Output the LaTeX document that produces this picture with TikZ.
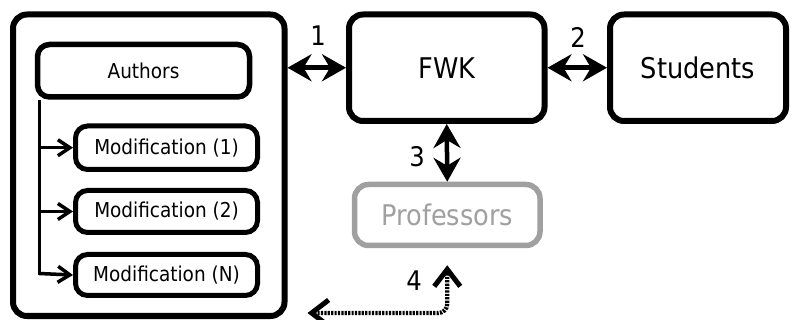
\documentclass[tikz,border=0pt]{standalone}
\usepackage{fontspec}
\setmainfont{DejaVu Sans}[FakeStretch=0.9]
\usetikzlibrary{arrows.meta}
\definecolor{profgray}{HTML}{A0A0A0}
\tikzset{
  box/.style={draw=black, rounded corners=14pt, fill=white, inner sep=0pt, line width=6pt},
  smallbox/.style={draw=black, rounded corners=12pt, fill=white, inner sep=0pt, line width=5pt, font=\fontsize{20.5}{22}\selectfont},
  bigtext/.style={font=\fontsize{28.5}{30}\selectfont},
  dbl/.style={line width=4.5pt, {Stealth[length=24pt,width=27pt,inset=8pt]}-{Stealth[length=24pt,width=27pt,inset=8pt]}},
  modarrow/.style={line width=3.5pt, -{Straight Barb[length=12pt,width=16pt,line width=3.5pt]}},
  trunk/.style={line width=3.5pt},
  dotarrow/.style={line width=4.2pt, dash pattern=on 2.2pt off 1.2pt, {Straight Barb[length=17pt,width=26pt,line width=5pt]}-{Straight Barb[length=17pt,width=26pt,line width=5pt]}, rounded corners=9pt},
  numlabel/.style={font=\fontsize{27}{28}\selectfont, inner sep=0pt}
}
\begin{document}
\begin{tikzpicture}[x=1pt, y=-1pt]
\useasboundingbox (0,0) rectangle (795,320);
% outer container
\node[box, line width=6pt, minimum width=271.5pt, minimum height=301.5pt] (outer) at (148.75,165.25) {};
\node[smallbox, line width=5.5pt, minimum width=212pt, minimum height=52.5pt] (authors) at (143.5,70.75) {Authors};
\node[smallbox, minimum width=182pt, minimum height=43.5pt] (m1) at (166.5,147.75) {Modification (1)};
\node[smallbox, minimum width=182pt, minimum height=42pt] (m2) at (166.5,211.5) {Modification (2)};
\node[smallbox, minimum width=182pt, minimum height=41pt] (m3) at (166.5,275) {Modification (N)};
% right boxes
\node[box, bigtext, minimum width=195.5pt, minimum height=106.5pt] (fwk) at (446.75,67.75) {FWK};
\node[box, bigtext, minimum width=176pt, minimum height=106.5pt] (stud) at (698,67.75) {Students};
\node[box, bigtext, draw=profgray, text=profgray, line width=5.5pt, minimum width=185.5pt, minimum height=61pt] (prof) at (447.25,215) {Professors};
% trunk and modification arrows
\coordinate (tr) at ([xshift=4.5pt]authors.south west);
\draw[trunk] (tr) -- (tr |- m3.west);
\draw[modarrow] (tr |- m1.west) -- (m1.west);
\draw[modarrow] (tr |- m2.west) -- (m2.west);
\draw[modarrow] ([yshift=1.5pt]tr |- m3.west) -- (m3.west);
% double arrows
\draw[dbl] (fwk.west -| outer.east) -- (fwk.west);
\draw[dbl] (fwk.east) -- (stud.west);
\draw[dbl] (fwk.south) -- (prof.north);
% dotted arrow 4
\coordinate (p4) at ([yshift=-17pt]prof.south);
\coordinate (e4) at ([xshift=20pt,yshift=6pt]outer.south east);
\draw[dotarrow] (e4) -| (p4);
% labels
\node[numlabel] (l1) at (318,36) {1};
\node[numlabel] (l2) at (578,37) {2};
\node[numlabel] (l3) at (417,157) {3};
\node[numlabel] (l4) at (414,281) {4};
\end{tikzpicture}
\end{document}
